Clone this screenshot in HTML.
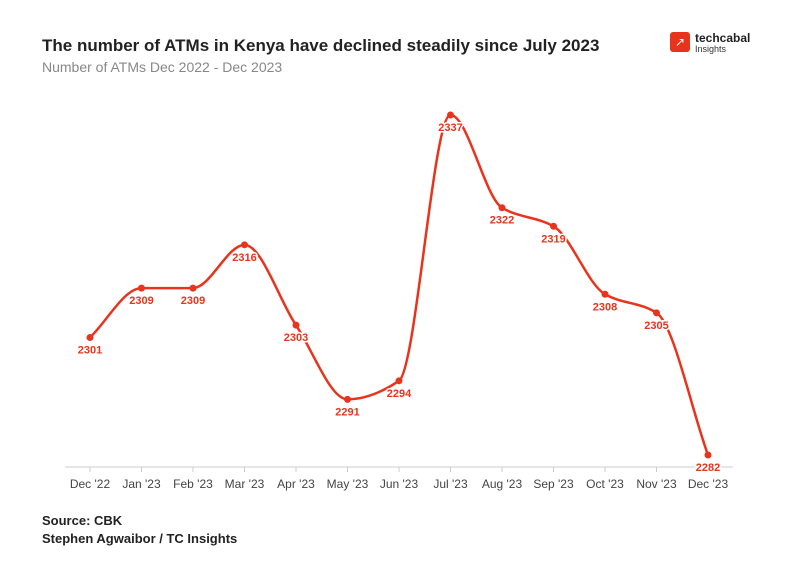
<!DOCTYPE html>
<html><head><meta charset="utf-8"><style>
body{margin:0;background:#fff;font-family:"Liberation Sans",sans-serif;}
#wrap{position:relative;width:796px;height:575px;overflow:hidden;}
.t{position:absolute;white-space:nowrap;}
</style></head><body>
<div id="wrap">
<div class="t" style="left:42px;top:36px;font-size:17px;font-weight:bold;color:#222;">The number of ATMs in Kenya have declined steadily since July 2023</div>
<div class="t" style="left:42px;top:59px;font-size:14px;color:#888;">Number of ATMs Dec 2022 - Dec 2023</div>
<div style="position:absolute;left:670px;top:32px;">
<div style="position:absolute;left:0;top:0;width:20px;height:20px;background:#e8341c;border-radius:3px;color:#fff;font-size:12px;text-align:center;line-height:20px;">↗</div>
<div class="t" style="left:25px;top:-1px;font-size:12px;font-weight:bold;color:#222;">techcabal</div>
<div class="t" style="left:25px;top:12px;font-size:9px;color:#333;">Insights</div>
</div>
<svg id="chart" width="796" height="575" style="position:absolute;left:0;top:0;"></svg>
<div class="t" style="left:42px;top:513px;font-size:13px;font-weight:bold;color:#222;">Source: CBK</div>
<div class="t" style="left:42px;top:531px;font-size:13px;font-weight:bold;color:#222;">Stephen Agwaibor / TC Insights</div>
</div>
<script>
const categories=["Dec '22","Jan '23","Feb '23","Mar '23","Apr '23","May '23","Jun '23","Jul '23","Aug '23","Sep '23","Oct '23","Nov '23","Dec '23"];
const values=[2301,2309,2309,2316,2303,2291,2294,2337,2322,2319,2308,2305,2282];
const NS="http://www.w3.org/2000/svg";
const svg=document.getElementById('chart');
const x=i=>90+i*(708-90)/(categories.length-1);
const y=v=>115+(2337-v)*(455-115)/(2337-2282);
function mk(t,a){const e=document.createElementNS(NS,t);for(const k in a)e.setAttribute(k,a[k]);svg.appendChild(e);return e;}
const ax=mk('line',{x1:65,x2:733,y1:467,y2:467,stroke:'#ccc','stroke-width':1});


categories.forEach((c,i)=>{
 const tk=mk('line',{x1:x(i),x2:x(i),y1:467,y2:472,stroke:'#ccc'});
 
 
 const t=mk('text',{x:x(i),y:488,'text-anchor':'middle','font-size':12,fill:'#444','font-family':'Liberation Sans, sans-serif'});
 t.textContent=c;
 
 
});
// monotone cubic
const px=values.map((v,i)=>x(i)),py=values.map(v=>y(v)),n=values.length;
const d=[],m=[];
for(let i=0;i<n-1;i++)d.push((py[i+1]-py[i])/(px[i+1]-px[i]));
for(let i=0;i<n;i++){
 if(i==0)m.push(d[0]);else if(i==n-1)m.push(d[n-2]);
 else m.push(d[i-1]*d[i]<=0?0:2/(1/d[i-1]+1/d[i]));
}
let p=`M${px[0]},${py[0]}`;
for(let i=0;i<n-1;i++){const h=(px[i+1]-px[i])/3;
 p+=` C${px[i]+h},${py[i]+m[i]*h} ${px[i+1]-h},${py[i+1]-m[i+1]*h} ${px[i+1]},${py[i+1]}`;}
const line=mk('path',{d:p,fill:'none',stroke:'#e8341c','stroke-width':2.5});


values.forEach((v,i)=>{
 const c=mk('circle',{cx:x(i),cy:y(v),r:3.5,fill:'#e8341c'});
 
 
 const t=mk('text',{x:x(i),y:y(v)+16,'text-anchor':'middle','font-size':11,'font-weight':'bold',fill:'#e8341c',stroke:'#fff','stroke-width':3,'paint-order':'stroke','font-family':'Liberation Sans, sans-serif'});
 t.textContent=v;
 
 
});
</script>
</body></html>
